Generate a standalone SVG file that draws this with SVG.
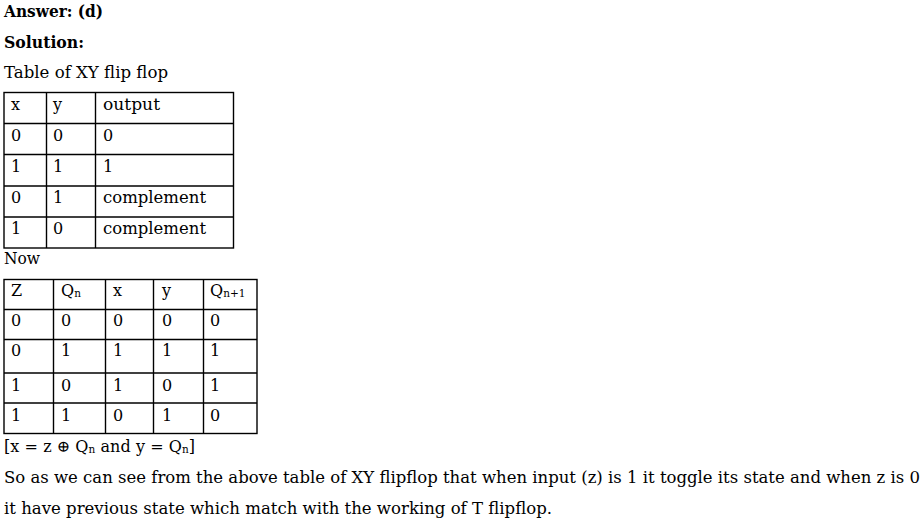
<svg xmlns="http://www.w3.org/2000/svg" width="924" height="519" viewBox="0 0 924 519">
<style>
text{font-family:"DejaVu Serif","Liberation Serif",serif;font-size:16px;fill:#000}
.b{font-weight:bold}
.g line,.g rect{stroke:#000;stroke-width:1.4;fill:none}
.s{font-size:10.5px}
</style>
<rect width="924" height="519" fill="#fff"/>
<text class="b" x="4" y="17" textLength="99" lengthAdjust="spacingAndGlyphs">Answer: (d)</text>
<text class="b" x="4" y="48" textLength="80" lengthAdjust="spacingAndGlyphs">Solution:</text>
<text x="4" y="78" textLength="164" lengthAdjust="spacingAndGlyphs">Table of XY flip flop</text>
<g id="table1" class="g">
<rect x="4" y="92.5" width="229.5" height="155.5"/>
<line x1="46.5" y1="92.5" x2="46.5" y2="248"/>
<line x1="95.5" y1="92.5" x2="95.5" y2="248"/>
<line x1="4" y1="123.5" x2="233.5" y2="123.5"/>
<line x1="4" y1="154.5" x2="233.5" y2="154.5"/>
<line x1="4" y1="186" x2="233.5" y2="186"/>
<line x1="4" y1="217" x2="233.5" y2="217"/>
<text x="11" y="110">x</text><text x="53" y="110">y</text><text x="103" y="110" textLength="57" lengthAdjust="spacingAndGlyphs">output</text>
<text x="11" y="141">0</text><text x="53" y="141">0</text><text x="103" y="141">0</text>
<text x="11" y="172">1</text><text x="53" y="172">1</text><text x="103" y="172">1</text>
<text x="11" y="203">0</text><text x="53" y="203">1</text><text x="103" y="203" textLength="103" lengthAdjust="spacingAndGlyphs">complement</text>
<text x="11" y="234">1</text><text x="53" y="234">0</text><text x="103" y="234" textLength="103" lengthAdjust="spacingAndGlyphs">complement</text>
</g>
<text x="4" y="264" textLength="36" lengthAdjust="spacingAndGlyphs">Now</text>
<g id="table2" class="g">
<rect x="4" y="279.5" width="253" height="154"/>
<line x1="53.5" y1="279.5" x2="53.5" y2="433.5"/>
<line x1="105.5" y1="279.5" x2="105.5" y2="433.5"/>
<line x1="153.5" y1="279.5" x2="153.5" y2="433.5"/>
<line x1="203.5" y1="279.5" x2="203.5" y2="433.5"/>
<line x1="4" y1="309.5" x2="257" y2="309.5"/>
<line x1="4" y1="339.5" x2="257" y2="339.5"/>
<line x1="4" y1="373" x2="257" y2="373"/>
<line x1="4" y1="403" x2="257" y2="403"/>
<text x="11" y="296">Z</text><text x="61" y="296">Q<tspan class="s" dy="1">n</tspan></text><text x="113" y="296">x</text><text x="162" y="296">y</text><text x="210" y="296">Q<tspan class="s" dy="1">n+1</tspan></text>
<text x="11" y="326">0</text><text x="61" y="326">0</text><text x="113" y="326">0</text><text x="162" y="326">0</text><text x="210" y="326">0</text>
<text x="11" y="356">0</text><text x="61" y="356">1</text><text x="113" y="356">1</text><text x="162" y="356">1</text><text x="210" y="356">1</text>
<text x="11" y="391">1</text><text x="61" y="391">0</text><text x="113" y="391">1</text><text x="162" y="391">0</text><text x="210" y="391">1</text>
<text x="11" y="421">1</text><text x="61" y="421">1</text><text x="113" y="421">0</text><text x="162" y="421">1</text><text x="210" y="421">0</text>
</g>
<text x="4" y="452" textLength="191" lengthAdjust="spacing">[x = z ⊕ Q<tspan class="s" dy="1">n</tspan><tspan dy="-1"> and y = Q</tspan><tspan class="s" dy="1">n</tspan><tspan dy="-1">]</tspan></text>
<text x="4" y="483" textLength="916" lengthAdjust="spacingAndGlyphs">So as we can see from the above table of XY flipflop that when input (z) is 1 it toggle its state and when z is 0</text>
<text x="4" y="514" textLength="548" lengthAdjust="spacingAndGlyphs">it have previous state which match with the working of T flipflop.</text>
</svg>
